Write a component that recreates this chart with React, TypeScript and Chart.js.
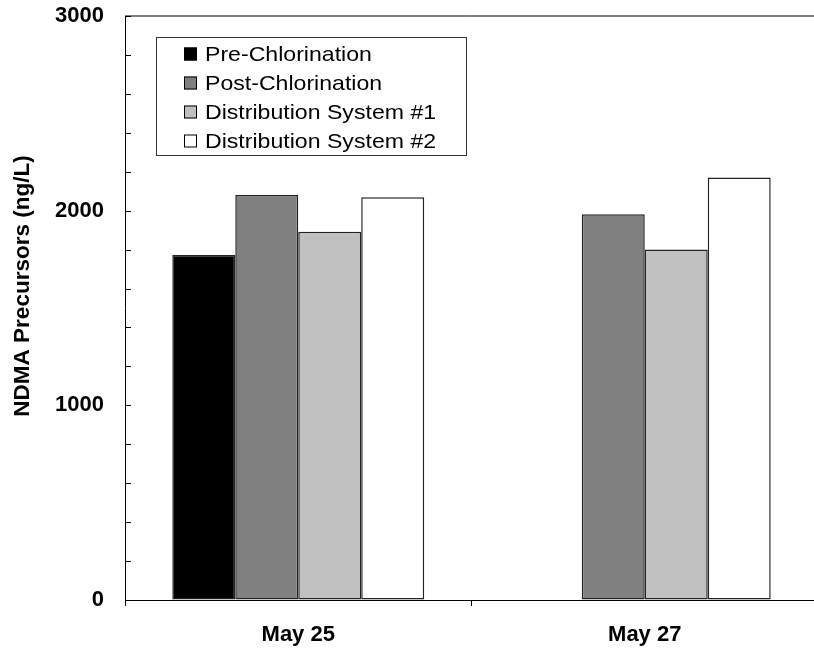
import React, { useEffect, useRef } from "react";
import { Chart, registerables } from "chart.js";

Chart.register(...registerables);

const categories = ["May 25", "May 27"];
const seriesNames = [
  "Pre-Chlorination",
  "Post-Chlorination",
  "Distribution System #1",
  "Distribution System #2",
];
const preChlorination = [1772, null];
const postChlorination = [2080, 1981];
const distribution1 = [1892, 1801];
const distribution2 = [2069, 2171];
const seriesColors = ["#000000", "#808080", "#c0c0c0", "#ffffff"];
const yTitle = "NDMA Precursors (ng/L)";
const yMin = 0;
const yMax = 3000;
const yMajorStep = 1000;
const yMinorStep = 200;

const FONT = '"Liberation Sans", Arial, sans-serif';

const decorPlugin = {
  id: "decor",
  afterDraw(chart: any) {
    const { ctx, chartArea } = chart;
    const y = chart.scales.y;
    ctx.save();
    // top and right border of plot area
    ctx.strokeStyle = "#000";
    ctx.lineWidth = 1;
    ctx.beginPath();
    ctx.moveTo(chartArea.left, chartArea.top);
    ctx.lineTo(chartArea.right, chartArea.top);
    ctx.lineTo(chartArea.right, chartArea.bottom);
    ctx.stroke();
    // inward y ticks (major + minor)
    ctx.beginPath();
    for (let v = yMin; v <= yMax; v += yMinorStep) {
      const py = Math.round(y.getPixelForValue(v)) + 0.5;
      ctx.moveTo(chartArea.left, py);
      ctx.lineTo(chartArea.left + 6, py);
    }
    ctx.stroke();
    // y axis title
    ctx.save();
    ctx.translate(23, 286);
    ctx.rotate(-Math.PI / 2);
    ctx.font = `bold 22.5px ${FONT}`;
    ctx.fillStyle = "#000";
    ctx.textAlign = "center";
    ctx.textBaseline = "middle";
    ctx.fillText(yTitle, 0, 0);
    ctx.restore();
    // legend
    const bx = 156.5, by = 37.5, bw = 310, bh = 118;
    ctx.fillStyle = "#fff";
    ctx.fillRect(bx, by, bw, bh);
    ctx.strokeStyle = "#333";
    ctx.strokeRect(bx, by, bw, bh);
    ctx.font = `21px ${FONT}`;
    ctx.textAlign = "left";
    ctx.textBaseline = "middle";
    seriesNames.forEach((name, i) => {
      const cy = 54 + i * 29;
      ctx.fillStyle = seriesColors[i];
      ctx.fillRect(184, cy - 6.5, 13, 13);
      ctx.strokeStyle = "#000";
      ctx.strokeRect(184.5, cy - 6, 12, 12);
      ctx.fillStyle = "#000";
      ctx.save();
      ctx.translate(205, cy + 1);
      ctx.scale(1.1, 1);
      ctx.fillText(name, 0, 0);
      ctx.restore();
    });
    ctx.restore();
  },
};

export default function App() {
  const ref = useRef<HTMLCanvasElement | null>(null);
  useEffect(() => {
    if (!ref.current) return;
    const seriesValues = [preChlorination, postChlorination, distribution1, distribution2];
    const chart = new Chart(ref.current, {
      type: "bar",
      data: {
        labels: categories,
        datasets: seriesNames.map((name, i) => ({
          label: name,
          data: seriesValues[i] as any,
          backgroundColor: seriesColors[i],
          borderColor: "#222",
          borderWidth: 1.5,
          borderSkipped: false,
          categoryPercentage: 0.727,
          barPercentage: 1,
        })),
      },
      options: {
        animation: false,
        responsive: true,
        maintainAspectRatio: false,
        layout: { padding: { top: 16, left: 0, right: 0, bottom: 0 } },
        plugins: { legend: { display: false }, tooltip: { enabled: false } },
        scales: {
          x: {
            afterFit: (s: any) => {
              s.height = 50;
              s.paddingLeft = 0;
              s.paddingRight = 0;
            },
            grid: {
              offset: true,
              drawOnChartArea: false,
              drawTicks: true,
              tickLength: 6,
              color: "#000",
            },
            border: { display: true, color: "#000", width: 1 },
            ticks: {
              color: "#000",
              padding: 16,
              font: { family: FONT, size: 22, weight: "bold" },
            },
          },
          y: {
            min: yMin,
            max: yMax,
            afterFit: (s: any) => {
              s.width = 125;
              s.paddingTop = 0;
              s.paddingBottom = 0;
            },
            grid: { drawOnChartArea: false, drawTicks: false },
            border: { display: true, color: "#000", width: 1 },
            ticks: {
              stepSize: yMajorStep,
              color: "#000",
              padding: 21,
              font: { family: FONT, size: 22, weight: "bold" },
              callback: (v: any) => String(v),
            },
          },
        },
      },
      plugins: [decorPlugin],
    });
    return () => chart.destroy();
  }, []);
  return (
    <div style={{ position: "absolute", left: 0, top: 0, width: 814, height: 650, overflow: "hidden", background: "#fff" }}>
      <div style={{ position: "relative", width: 818, height: 650 }}>
        <canvas ref={ref} />
      </div>
    </div>
  );
}
